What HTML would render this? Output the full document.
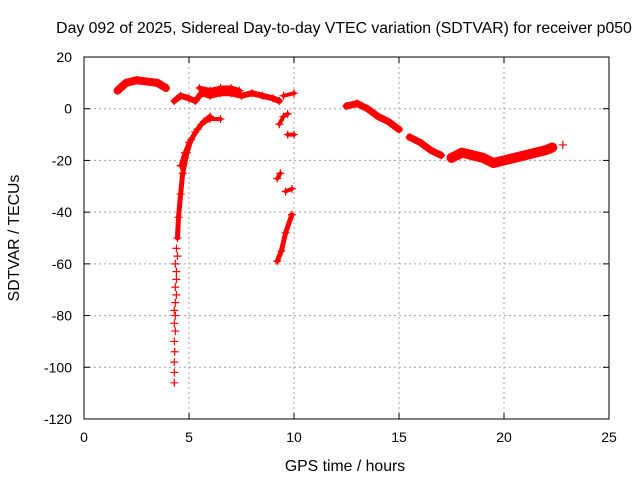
<!DOCTYPE html>
<html><head><meta charset="utf-8"><style>
html,body{margin:0;padding:0;background:#fff;}
svg{display:block;font-family:"Liberation Sans",sans-serif;}
</style></head><body>
<svg id="chart" width="640" height="480" viewBox="0 0 640 480" xmlns="http://www.w3.org/2000/svg">
<text x="344" y="33" font-size="15.8" text-anchor="middle">Day 092 of 2025, Sidereal Day-to-day VTEC variation (SDTVAR) for receiver p050</text>
<text x="345" y="471" font-size="15.8" text-anchor="middle">GPS time / hours</text>
<text transform="translate(19,238) rotate(-90)" font-size="15.8" text-anchor="middle">SDTVAR / TECUs</text>
<g id="grid"></g>
<g id="ticks"></g>
<g id="marks"></g>
<rect x="84" y="57" width="525" height="362" fill="none" stroke="#000" stroke-width="1"/>
</svg>
<script>
const xTicks=[0,5,10,15,20,25];
const yTicks=[20,0,-20,-40,-60,-80,-100,-120];
const trackA=[[1.6,7],[2,10],[2.5,11],[3,10.5],[3.5,10],[3.9,8]];
const trackB=[[4.3,3],[4.6,5],[5,4],[5.3,3],[5.6,6],[6,5],[6.5,6],[7,6],[7.5,5],[8,6],[8.5,5],[9,4],[9.3,3]];
const trackB2=[[5.5,8],[6,7],[6.5,8],[7,8],[7.4,7]];
const trackC=[[4.45,-50],[4.5,-42],[4.6,-33],[4.7,-25],[4.9,-17],[5.1,-12],[5.4,-8],[5.7,-5],[6,-3]];
const trackCsparse=[[4.3,-106],[4.3,-102],[4.3,-98],[4.32,-94],[4.3,-90],[4.35,-86],[4.3,-83],[4.35,-80],[4.3,-78],[4.35,-75],[4.4,-72],[4.35,-69],[4.4,-66],[4.4,-63],[4.35,-60],[4.45,-57],[4.4,-54]];
const trackC2=[[4.6,-22],[4.8,-17],[5,-13],[5.3,-9],[5.6,-6],[6,-4],[6.5,-4]];
const trackD1=[[9.2,-59],[9.4,-55],[9.6,-48],[9.9,-41]];
const trackD2=[[9.2,-27],[9.35,-25]];
const trackD3=[[9.6,-32],[9.9,-31]];
const trackD4=[[9.7,-10],[10,-10]];
const trackD5=[[9.3,-6],[9.5,-3],[9.7,-2]];
const trackD6=[[9.5,5],[10,6]];
const trackE=[[12.5,1],[13,2],[13.5,0],[14,-3],[14.5,-5],[15,-8]];
const trackF=[[15.5,-11],[16,-13],[16.5,-16],[17,-18]];
const trackG=[[17.5,-19],[18,-17],[18.5,-18],[19,-19],[19.5,-21],[20,-20],[20.5,-19],[21,-18],[21.5,-17],[22,-16],[22.3,-15]];
const trackH=[[22.8,-14]];
const tracks=[trackA,trackB,trackB2,trackC,trackCsparse,trackC2,trackD1,trackD2,trackD3,trackD4,trackD5,trackD6,trackE,trackF,trackG,trackH];
const widths=[8,6,5,5,0,4,5,4,4,4,4,4,7,7,10,3];
const NS='http://www.w3.org/2000/svg';
const sx=t=>84+t*21;
const sy=v=>57+(20-v)*362/140;
const grid=document.getElementById('grid'),ticks=document.getElementById('ticks'),marks=document.getElementById('marks');
function mk(tag,attrs,parent){const e=document.createElementNS(NS,tag);for(const k in attrs)e.setAttribute(k,attrs[k]);parent.appendChild(e);return e;}
xTicks.forEach(t=>{
  const x=sx(t);
  if(t>0&&t<25){const g=mk('line',{x1:x,x2:x,y1:57,y2:419,stroke:'#a0a0a0','stroke-dasharray':'2,3'},grid);
  
  }
  mk('line',{x1:x,x2:x,y1:419,y2:413,stroke:'#000'},ticks);
  mk('line',{x1:x,x2:x,y1:57,y2:63,stroke:'#000'},ticks);
  const l=mk('text',{x:x,y:442,'font-size':14,'text-anchor':'middle'},ticks);l.textContent=t;
  
  
});
yTicks.forEach(v=>{
  const y=sy(v);
  if(v<20&&v>-120){const g=mk('line',{x1:84,x2:609,y1:y,y2:y,stroke:'#a0a0a0','stroke-dasharray':'2,3'},grid);
  
  }
  mk('line',{x1:84,x2:90,y1:y,y2:y,stroke:'#000'},ticks);
  mk('line',{x1:603,x2:609,y1:y,y2:y,stroke:'#000'},ticks);
  const l=mk('text',{x:72,y:y+5,'font-size':14,'text-anchor':'end'},ticks);l.textContent=v;
  
  
});
tracks.forEach((tr,i)=>{
  if(tr.length>1&&widths[i]>0){
    const p=mk('polyline',{points:tr.map(d=>sx(d[0])+','+sy(d[1])).join(' '),fill:'none',stroke:'#ff0000','stroke-width':widths[i],'stroke-linejoin':'round','stroke-linecap':'round'},marks);
    
    
  }
  tr.forEach(d=>{
    const x=sx(d[0]),y=sy(d[1]);
    const m=mk('path',{d:`M${x-4},${y}H${x+4}M${x},${y-4}V${y+4}`,stroke:'#ff0000','stroke-width':1.2},marks);
    
    
  });
});
</script>
</body></html>
